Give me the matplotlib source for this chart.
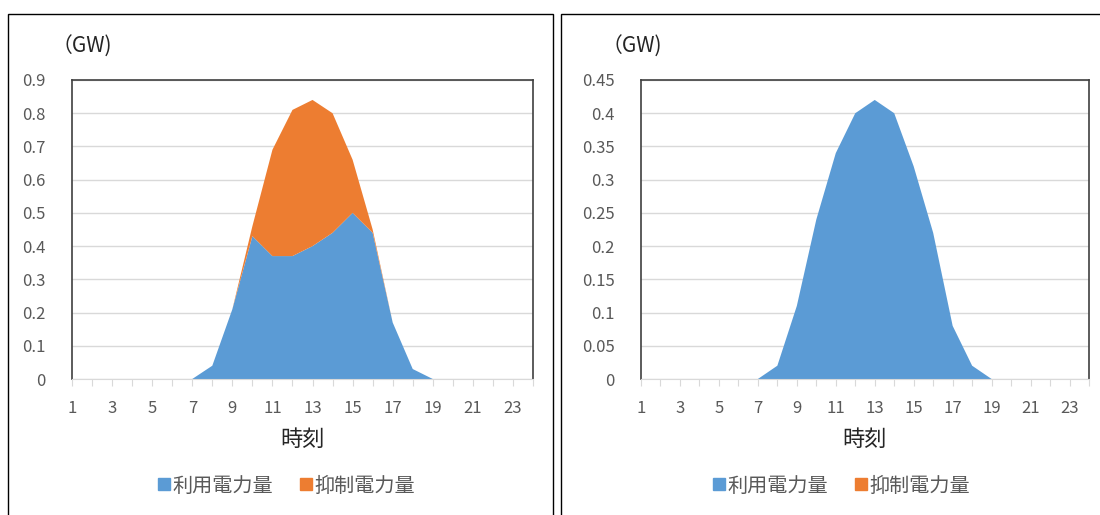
import numpy as np
import matplotlib.pyplot as plt
from matplotlib.lines import Line2D
from matplotlib.patches import Rectangle

plt.rcParams['font.family'] = ['Noto Sans CJK JP', 'DejaVu Sans']

hours = list(range(1, 25))
# left chart: used power / curtailed power (GW)
used_a = [0, 0, 0, 0, 0, 0, 0, 0.04, 0.21, 0.43, 0.37, 0.37, 0.40, 0.44, 0.50, 0.44,
          0.17, 0.03, 0, 0, 0, 0, 0, 0]
curt_a = [0, 0, 0, 0, 0, 0, 0, 0, 0, 0.03, 0.32, 0.44, 0.44, 0.36, 0.16, 0.01,
          0, 0, 0, 0, 0, 0, 0, 0]
# right chart: no curtailment
used_b = [0, 0, 0, 0, 0, 0, 0, 0.02, 0.11, 0.24, 0.34, 0.40, 0.42, 0.40, 0.32, 0.22,
          0.08, 0.02, 0, 0, 0, 0, 0, 0]
curt_b = [0] * 24

yticks_a = [0, 0.1, 0.2, 0.3, 0.4, 0.5, 0.6, 0.7, 0.8, 0.9]
yticks_b = [0, 0.05, 0.1, 0.15, 0.2, 0.25, 0.3, 0.35, 0.4, 0.45]
series_names = ['利用電力量', '抑制電力量']

BLUE = '#5B9BD5'
ORANGE = '#ED7D31'
GRAY = '#595959'

W, H = 1100, 515
fig = plt.figure(figsize=(11, 5.15), dpi=100)

def px_axes(l, r, t, b):
    return fig.add_axes([l / W, 1 - b / H, (r - l) / W, (b - t) / H])

def draw_panel(ax, used, curt, yticks, ylabels):
    ax.stackplot(hours, used, curt, colors=[BLUE, ORANGE], linewidth=0)
    ax.set_xlim(1, 24)
    ax.set_ylim(0, yticks[-1])
    ax.set_yticks(yticks)
    ax.set_yticklabels(ylabels)
    ax.set_xticks(hours)
    ax.set_xticklabels([str(h) if h % 2 == 1 else '' for h in hours])
    ax.grid(axis='y', color='#D9D9D9', linewidth=1)
    ax.set_axisbelow(True)
    for s in ['top', 'left', 'right']:
        ax.spines[s].set_color('#404040')
        ax.spines[s].set_linewidth(1.2)
    ax.spines['bottom'].set_color('#D9D9D9')
    ax.tick_params(axis='y', length=0, pad=19, labelsize=12, labelcolor=GRAY)
    ax.tick_params(axis='x', length=5, color='#D9D9D9', pad=10, labelsize=12, labelcolor=GRAY)
    ax.set_xlabel('時刻', fontsize=16, color='#262626', labelpad=8)

ax1 = px_axes(72, 533, 80, 379)
draw_panel(ax1, used_a, curt_a, yticks_a, [f'{v:g}' for v in yticks_a])
ax2 = px_axes(641, 1089, 80, 379)
draw_panel(ax2, used_b, curt_b, yticks_b, [f'{v:g}' for v in yticks_b])

fig.text(52 / W, 1 - 47 / H, '（GW)', fontsize=15, color='#262626', va='center', ha='left')
fig.text(602 / W, 1 - 47 / H, '（GW)', fontsize=15, color='#262626', va='center', ha='left')

handles = [Line2D([], [], marker='s', linestyle='none', markersize=8, color=BLUE),
           Line2D([], [], marker='s', linestyle='none', markersize=8, color=ORANGE)]
for cx in (287, 842):
    fig.legend(handles, series_names, loc='center', bbox_to_anchor=(cx / W, 1 - 486 / H),
               ncol=2, frameon=False, fontsize=14.5, handlelength=0.5, handletextpad=0.15,
               columnspacing=1.4, labelcolor=GRAY)

# outer panel borders
fig.patches.append(Rectangle((8 / W, -0.01), (553 - 8) / W, 1 - 14 / H + 0.01,
                             transform=fig.transFigure, fill=False, edgecolor='black', lw=1))
fig.patches.append(Rectangle((561 / W, -0.01), (1105 - 561) / W, 1 - 14 / H + 0.01,
                             transform=fig.transFigure, fill=False, edgecolor='black', lw=1))

fig.savefig('out.png', dpi=100)
